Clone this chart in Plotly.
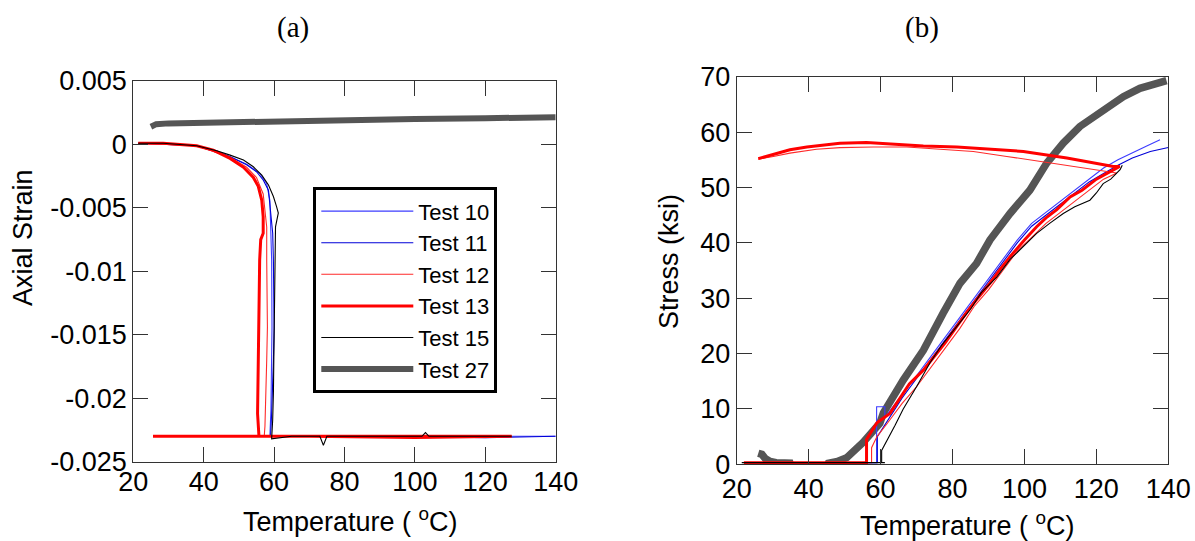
import plotly.graph_objects as go

# ---------------- Panel (a): Axial strain vs temperature ----------------
t10_a_temp = [21.4, 28.5, 38.0, 43.7, 47.5, 52.2, 56.0, 57.9, 58.8, 59.0, 59.3, 59.4, 59.3, 59.1, 58.8, 75, 95, 115, 130, 140]
t10_a_strain = [0.0001, 0.0001, -0.0001, -0.0005, -0.00097, -0.00155, -0.0023, -0.0031, -0.0044, -0.006, -0.0091, -0.0144,
                -0.0183, -0.0209, -0.0230, -0.0230, -0.0230, -0.0230, -0.0230, -0.0230]

t11_a_temp = [21.4, 38.0, 47.5, 52.2, 55.0, 56.9, 58.4, 58.8, 59.3, 59.6, 59.8, 60.0, 60.0, 59.8, 59.6, 59.3, 59.0, 80, 100, 120, 140]
t11_a_strain = [0.0001, -0.0001, -0.00097, -0.0016, -0.00215, -0.0028, -0.0036, -0.0047, -0.0057, -0.007, -0.0091, -0.0117,
                -0.0144, -0.017, -0.0196, -0.0212, -0.0230, -0.0230, -0.0230, -0.0231, -0.0230]

t12_a_temp = [21.4, 38.0, 47.5, 52.2, 55.0, 56.9, 57.4, 57.9, 57.9, 58.1, 58.1, 57.9, 57.7, 57.4, 57.2, 80, 105, 127.5, 100, 70, 45, 25.6]
t12_a_strain = [0.0001, -0.0001, -0.001, -0.0018, -0.0026, -0.0039, -0.0052, -0.0065, -0.0091, -0.0117, -0.0144, -0.017,
                -0.0196, -0.0222, -0.0230, -0.0230, -0.0230, -0.0230, -0.0231, -0.0230, -0.0230, -0.0230]

t13_a_temp = [21.4, 28.5, 38.0, 42.7, 47.5, 51.3, 54.1, 55.5, 56.5, 56.9, 56.9, 56.2, 55.9, 55.8, 55.6, 55.5, 55.3, 55.3, 55.7,
              80, 105, 127.5, 100, 70, 45, 25.6]
t13_a_strain = [0.0001, 0.0001, -0.0001, -0.00045, -0.0011, -0.0018, -0.0026, -0.0033, -0.0044, -0.0057, -0.007, -0.0075,
                -0.0091, -0.0117, -0.0144, -0.017, -0.0196, -0.0212, -0.0230, -0.0230, -0.0230, -0.0230, -0.0231, -0.0230,
                -0.0230, -0.0230]

t15_a_temp = [21.4, 28.5, 38.0, 43.7, 47.5, 51.3, 54.1, 56.5, 58.4, 59.8, 60.7, 61.2, 60.4, 60.3, 60.2, 60.1, 60.0, 59.8, 59.6,
              59.3, 65, 73, 74, 75, 90, 102, 103, 104, 115, 127.5]
t15_a_strain = [0.0001, 0.0001, -0.0001, -0.0005, -0.00084, -0.00123, -0.00176, -0.00242, -0.0032, -0.0041, -0.0049, -0.0054,
                -0.0065, -0.0091, -0.0117, -0.0144, -0.017, -0.0196, -0.0217, -0.0232, -0.0230, -0.0230, -0.0237, -0.0230,
                -0.0230, -0.0230, -0.0227, -0.0230, -0.0230, -0.0230]

t27_a_temp = [25.0, 26.5, 30, 40, 60, 80, 100, 120, 140]
t27_a_strain = [0.0014, 0.0016, 0.00166, 0.00172, 0.00183, 0.00193, 0.0020, 0.00207, 0.00214]

# ---------------- Panel (b): Stress vs temperature ----------------
t10_b_temp = [22.0, 40, 58.9, 58.9, 61.2, 61.2, 63, 66, 70, 74, 78, 82, 86, 90, 94, 98, 102, 106, 110, 114, 118, 122, 126,
              130, 134, 137.7]
t10_b_stress = [0.3, 0.3, 0.3, 10.4, 10.4, 8.5, 10, 12.5, 16, 19.5, 23, 26.5, 30, 33.5, 37, 40.5, 43.5, 45.5, 47.5, 49.5,
                51.5, 53.5, 55, 56.3, 57.5, 58.6]

t11_b_temp = [22.0, 40, 59.1, 59.1, 62, 66, 70, 74, 78, 82, 86, 90, 94, 98, 102, 106, 110, 114, 118, 122, 126, 130, 135, 140]
t11_b_stress = [0.3, 0.3, 0.3, 5, 8, 12, 15.5, 19, 22.5, 26, 29.5, 33, 36.5, 40, 43, 45, 47, 49, 51, 52.5, 54, 55.3, 56.5, 57.2]

t12_b_temp = [22.8, 40, 57.5, 57.5, 59, 62, 66, 70, 74, 78, 82, 86, 90, 94, 98, 102, 106, 110, 114, 118, 122, 125.7,
              103.4, 95.1, 85.8, 76.5, 67.3, 58.0, 48.7, 42.2, 34.8, 30.2, 26.0]
t12_b_stress = [0.3, 0.3, 0.3, 3, 5, 7.5, 11, 14, 17.5, 21, 24.5, 28.5, 31.5, 35, 38.5, 41, 43.5, 45.5, 47.5, 49.5, 51.5, 52.6,
                54.7, 55.6, 56.5, 56.9, 57.3, 57.3, 57.2, 56.9, 56.2, 55.6, 55.1]

t13_b_temp = [22.0, 40, 56.1, 56.1, 57, 59, 62.6, 66, 68, 71.9, 75, 78, 81.2, 84, 87, 90.4, 93, 96, 100, 103.4, 106, 109,
              112.7, 116, 120, 124.7, 126.5, 124.7, 111.8, 99.7, 90.4, 81.2, 71.9, 62.6, 56.1, 48.7, 44.1, 39.5, 34.8, 32.0,
              29.3, 26.0]
t13_b_stress = [0.3, 0.3, 0.3, 4.5, 5.5, 7.5, 9.2, 12.5, 14.5, 17.0, 19.5, 22, 24.9, 27.5, 30, 32.7, 35, 37.5, 40.5, 42.9, 44.5,
                46, 48.3, 49.5, 51.5, 53.2, 53.8, 53.8, 55.3, 56.5, 56.9, 57.3, 57.5, 57.9, 58.1, 58.0, 57.7, 57.3, 56.8, 56.3,
                55.9, 55.2]

t15_b_temp = [21.4, 40, 61.2, 60.3, 60.3, 62, 64, 66.3, 70, 73.7, 77, 81.2, 85, 88, 92.3, 96, 100, 103.4, 107, 110.8, 114,
              118.2, 120, 121.9, 124, 126.6, 127.2]
t15_b_stress = [0.3, 0.3, 0.3, 0.3, 2.5, 4.5, 7, 10.0, 14, 18.3, 21.5, 24.9, 28, 31, 33.8, 37, 39.5, 41.7, 43.5, 45.3, 46.5,
                47.7, 49, 50.7, 51.5, 53.2, 54]

t27_b_temp = [26.0, 27.0, 28.0, 29.3, 31.0, 34.8, 35.5, 44.5, 45.5, 48.0, 50.6, 55.2, 59.8, 60.8, 66.3, 71.9, 77.4, 82.1,
              86.7, 90.4, 96.0, 101.5, 106.2, 110.8, 115.4, 121.9, 127.5, 132.1, 135.5, 139.5]
t27_b_stress = [2.0, 1.8, 1.0, 0.5, 0.3, 0.2, -1.5, -1.5, 0.2, 0.5, 1.2, 4.0, 7.4, 9.3, 15.2, 20.6, 27.3, 32.7, 36.3, 40.5,
                45.3, 49.5, 54.4, 58.0, 61.0, 64.0, 66.4, 67.9, 68.6, 69.3]

# ---------------- Tick labels ----------------
temp_ticks = [20, 40, 60, 80, 100, 120, 140]
strain_ticks = [0.005, 0, -0.005, -0.01, -0.015, -0.02, -0.025]
strain_ticktext = ["0.005", "0", "-0.005", "-0.01", "-0.015", "-0.02", "-0.025"]
stress_ticks = [0, 10, 20, 30, 40, 50, 60, 70]

names = ["Test 10", "Test 11", "Test 12", "Test 13", "Test 15", "Test 27"]
colors = ["#3c3cff", "#0000d8", "#ff2a2a", "#ff0000", "#000000", "#555555"]
widths_a = [1.1, 1.1, 1.1, 3, 1.1, 6]
widths_b = [1.1, 1.1, 1.1, 3, 1.1, 7.5]

panel_a = [(t10_a_temp, t10_a_strain), (t11_a_temp, t11_a_strain), (t12_a_temp, t12_a_strain),
           (t13_a_temp, t13_a_strain), (t15_a_temp, t15_a_strain), (t27_a_temp, t27_a_strain)]
panel_b = [(t10_b_temp, t10_b_stress), (t11_b_temp, t11_b_stress), (t12_b_temp, t12_b_stress),
           (t13_b_temp, t13_b_stress), (t15_b_temp, t15_b_stress), (t27_b_temp, t27_b_stress)]

fig = go.Figure()

for i, (xs, ys) in enumerate(panel_a):
    fig.add_trace(go.Scatter(x=xs, y=ys, mode="lines", name=names[i], legendgroup=names[i],
                             line=dict(color=colors[i], width=widths_a[i]), xaxis="x", yaxis="y"))

# panel (b): gray drawn first so the coloured curves sit above it
order_b = [5, 0, 1, 2, 3, 4]
for i in order_b:
    xs, ys = panel_b[i]
    fig.add_trace(go.Scatter(x=xs, y=ys, mode="lines", name=names[i], legendgroup=names[i], showlegend=False,
                             line=dict(color=colors[i], width=widths_b[i]), xaxis="x2", yaxis="y2"))

W, H = 1195, 541
FONT = "Liberation Sans, Arial, sans-serif"
axis_common = dict(showline=True, linecolor="#333333", linewidth=1, mirror="ticks", ticks="inside", ticklen=15,
                   tickcolor="#333333", tickwidth=1, showgrid=False, zeroline=False, automargin=False,
                   tickfont=dict(family=FONT, size=27, color="black"))

fig.update_layout(
    width=W, height=H,
    margin=dict(l=0, r=0, t=0, b=0),
    paper_bgcolor="white", plot_bgcolor="white",
    font=dict(family=FONT, color="black"),
    xaxis=dict(domain=[133.3 / W, 555.7 / W], range=[20, 140], tickvals=temp_ticks, anchor="y",
               ticklabelstandoff=-4, **axis_common),
    yaxis=dict(domain=[(H - 461.7) / H, (H - 81) / H], range=[-0.025, 0.005], tickvals=strain_ticks,
               ticktext=strain_ticktext, anchor="x", **axis_common),
    xaxis2=dict(domain=[736.7 / W, 1168.3 / W], range=[20, 140], tickvals=temp_ticks, anchor="y2", **axis_common),
    yaxis2=dict(domain=[(H - 464.3) / H, (H - 76.7) / H], range=[0, 70], tickvals=stress_ticks, anchor="x2",
                **axis_common),
    legend=dict(x=313.3 / W, y=(H - 187.3) / H, xanchor="left", yanchor="top", bgcolor="white",
                bordercolor="black", borderwidth=3, font=dict(family=FONT, size=22, color="black"),
                itemwidth=92, tracegroupgap=0),
    showlegend=True,
)

ann_font = dict(family=FONT, size=27, color="black")
serif = dict(family="Liberation Serif, Times New Roman, serif", size=29, color="black")
annotations = [
    dict(text="(a)", x=292.7 / W, y=(H - 28) / H, font=serif),
    dict(text="(b)", x=921.7 / W, y=(H - 28) / H, font=serif),
    dict(text="Temperature ( <sup>o</sup>C)", x=350 / W, y=(H - 520) / H, font=ann_font),
    dict(text="Temperature ( <sup>o</sup>C)", x=967 / W, y=(H - 524) / H, font=ann_font),
    dict(text="Axial Strain", x=23 / W, y=(H - 238) / H, font=ann_font, textangle=-90),
    dict(text="Stress (ksi)", x=669 / W, y=(H - 262) / H, font=ann_font, textangle=-90),
]
for a in annotations:
    fig.add_annotation(xref="paper", yref="paper", showarrow=False, xanchor="center", yanchor="middle", **a)

fig.write_html("out.html", config={"displayModeBar": False},
               post_script="document.body.style.margin='0px'; document.body.style.overflow='hidden';")
